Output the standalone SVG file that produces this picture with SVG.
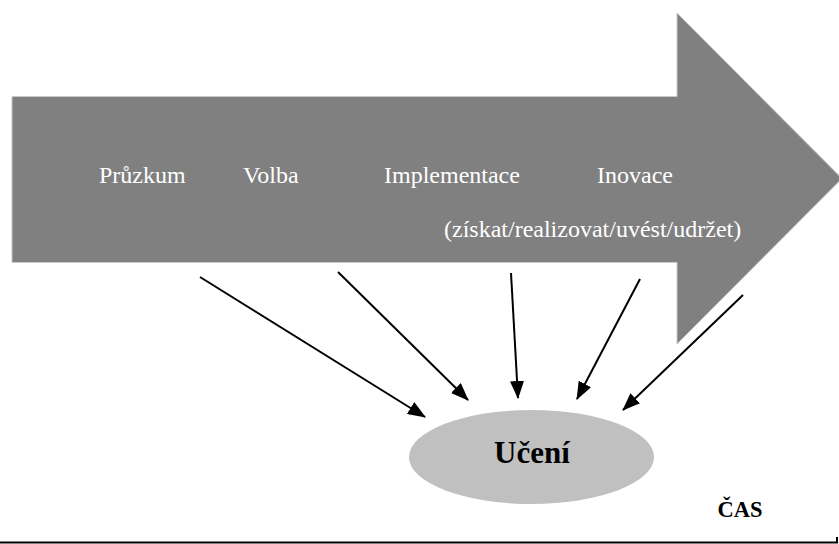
<svg xmlns="http://www.w3.org/2000/svg" width="839" height="544" viewBox="0 0 839 544">
<style>
.lbl{font-family:"Liberation Serif","Times New Roman",serif;font-size:24px;fill:#ffffff}
.bold{font-family:"Liberation Serif","Times New Roman",serif;font-weight:bold;fill:#000000}
.conn{stroke:#000;stroke-width:2;fill:none;marker-end:url(#ah)}
</style>
<defs>
<marker id="ah" markerUnits="userSpaceOnUse" markerWidth="18" markerHeight="14" viewBox="0 0 18 14" refX="17" refY="7" orient="auto">
<path d="M0,0 L18,7 L0,14 Z" fill="#000"/>
</marker>
</defs>
<rect width="839" height="544" fill="#ffffff"/>
<g id="timeline">
<polygon points="12,96.5 677,96.5 677,13 842,178.5 677,344 677,262.5 12,262.5" fill="#808080" stroke="#c8c8c8" stroke-width="1"/>
<text class="lbl" x="99" y="183">Průzkum</text>
<text class="lbl" x="243" y="183">Volba</text>
<text class="lbl" x="384" y="183">Implementace</text>
<text class="lbl" x="597" y="183">Inovace</text>
<text class="lbl" x="444" y="237">(získat/realizovat/uvést/udržet)</text>
</g>
<g id="uceni">
<ellipse cx="531.5" cy="457" rx="122.5" ry="47" fill="#c0c0c0"/>
<text class="bold" x="532" y="463" font-size="31" text-anchor="middle">Učení</text>
</g>
<g id="cas">
<text class="bold" x="740" y="517" font-size="22.5" text-anchor="middle">ČAS</text>
<path d="M0,542.5 H837 V537" stroke="#000" stroke-width="2" fill="none"/>
</g>
<g id="connectors">
<line class="conn" x1="200" y1="277" x2="425" y2="417"/>
<line class="conn" x1="338" y1="272" x2="468" y2="400"/>
<line class="conn" x1="511" y1="273" x2="518" y2="398"/>
<line class="conn" x1="640" y1="279" x2="577" y2="399"/>
<line class="conn" x1="743" y1="295" x2="623" y2="410"/>
</g>
</svg>
